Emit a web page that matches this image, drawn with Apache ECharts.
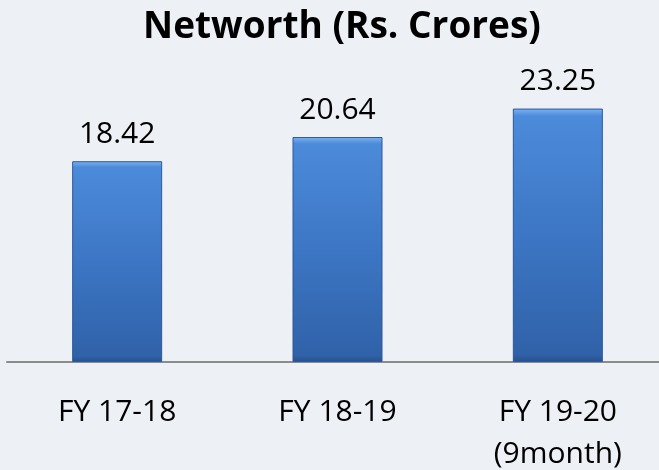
<!DOCTYPE html>
<html>
<head>
<meta charset="utf-8">
<script src="https://cdn.jsdelivr.net/npm/echarts@6/dist/echarts.min.js"></script>
<style>
  html, body { margin: 0; padding: 0; }
  #main { width: 659px; height: 470px; background: #edf1f5; }
</style>
</head>
<body>
<div id="main"></div>
<script>
// data
var categories = ['FY 17-18', 'FY 18-19', 'FY 19-20\n(9month)'];
var networth = [18.42, 20.64, 23.25];

var chartDom = document.getElementById('main');
var myChart = echarts.init(chartDom);
var option;

option = {
    backgroundColor: '#edf1f5',
    title: {
        text: 'Networth (Rs. Crores)',
        left: 337,
        textAlign: 'center',
        top: 4,
        textStyle: {
            fontFamily: 'Open Sans',
            fontWeight: 'bold',
            fontSize: 37,
            color: '#000'
        }
    },
    grid: {
        left: 7,
        right: -9,
        top: 35,
        bottom: 108,
        outerBoundsMode: 'none'
    },
    xAxis: {
        type: 'category',
        data: categories,
        axisLine: { lineStyle: { color: '#8c8c8c', width: 2 } },
        axisTick: { show: false },
        axisLabel: {
            margin: 29,
            fontFamily: 'Open Sans',
            fontSize: 30,
            lineHeight: 42,
            color: '#000'
        }
    },
    yAxis: {
        type: 'value',
        min: 0,
        max: 30,
        show: false,
        splitLine: { show: false }
    },
    series: [
        {
            name: 'Networth',
            type: 'bar',
            data: networth,
            barWidth: 90,
            itemStyle: {
                color: new echarts.graphic.LinearGradient(0, 0, 0, 1, [
                    { offset: 0, color: '#7db3f0' },
                    { offset: 0.03, color: '#4c8bda' },
                    { offset: 0.5, color: '#3c76c4' },
                    { offset: 0.97, color: '#3062a9' },
                    { offset: 1, color: '#27508c' }
                ]),
                borderColor: '#2b589c',
                borderWidth: 1
            },
            label: {
                show: true,
                position: 'top',
                distance: 12,
                fontFamily: 'Open Sans',
                fontSize: 30,
                color: '#000'
            }
        }
    ]
};

option && myChart.setOption(option);
</script>
</body>
</html>
